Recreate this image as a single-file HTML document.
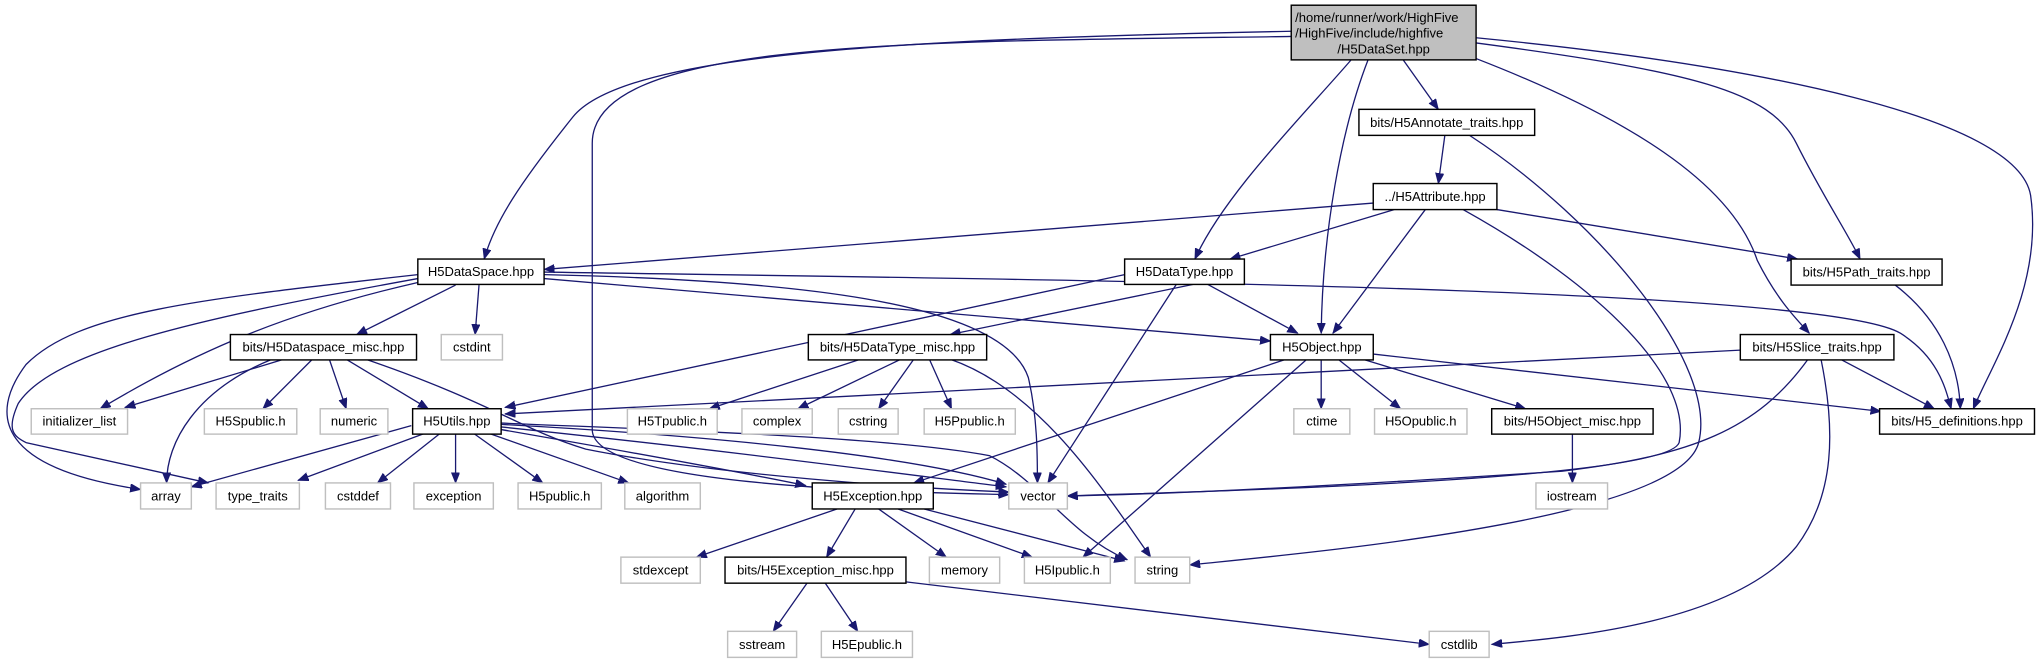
<!DOCTYPE html>
<html><head><meta charset="utf-8">
<style>
html,body{margin:0;padding:0;background:#fff;}
svg{display:block;}
text{font-family:"Liberation Sans",Arial,sans-serif;font-size:10px;fill:#000;}
.e{fill:none;stroke:#191970;stroke-width:1;}
.n{fill:#fff;stroke:#000;stroke-width:1.1;}
.g{fill:#fff;stroke:#bfbfbf;stroke-width:1.1;}
</style></head>
<body>
<svg width="2041" height="664" viewBox="0 0 1568 510.1" preserveAspectRatio="none" xmlns="http://www.w3.org/2000/svg">
<defs>
<marker id="a" markerUnits="userSpaceOnUse" markerWidth="9" markerHeight="7" refX="8" refY="3.2" orient="auto">
<path d="M0,0 L8,3.2 L0,6.4 z" fill="#191970" stroke="#191970" stroke-width="0.6"/>
</marker>
</defs>
<g class="e" marker-end="url(#a)">
<path d="M992,24 C700,30 480,40 440,90 C400,140 380,170 372,199"/>
<path d="M992,28 C700,32 455,30 455,110 L455,330 C455,375 700,378 775,380"/>
<path d="M1038,46 C1000,90 940,150 918,199"/>
<path d="M1051,46 C1030,100 1016,180 1015,256"/>
<path d="M1078,46 L1105,84"/>
<path d="M1134,45 C1250,90 1330,140 1350,200 C1365,230 1380,245 1390,256"/>
<path d="M1134,33 C1300,55 1360,70 1380,110 C1400,150 1420,180 1429,199"/>
<path d="M1134,29 C1350,50 1550,90 1560,150 C1570,220 1530,280 1516,314"/>
<path d="M1110,104 L1105,141"/>
<path d="M1129,104 C1230,170 1320,280 1305,340 C1290,400 1000,425 914,434"/>
<path d="M1055,156 L418,207"/>
<path d="M1071,161 L945,199"/>
<path d="M1095,161 L1024,256"/>
<path d="M1124,161 C1230,220 1300,290 1290,340 C1280,370 900,378 820,381"/>
<path d="M1150,161 L1381,199"/>
<path d="M350,219 L274,257"/>
<path d="M368,219 L365,257"/>
<path d="M321,217 C220,240 150,270 77,314"/>
<path d="M321,211 C150,230 60,240 20,280 C-10,320 0,360 108,376"/>
<path d="M321,214 C150,245 40,270 14,310 C5,330 10,335 20,340 L160,371"/>
<path d="M418,211 C600,215 770,230 790,290 C797,320 797,350 797,371"/>
<path d="M418,214 L976,262"/>
<path d="M418,209 C800,215 1400,220 1460,256 C1490,275 1495,300 1499,314"/>
<path d="M919,218 L730,257"/>
<path d="M927,218 L997,256"/>
<path d="M864,211 L388,313"/>
<path d="M904,218 L805,371"/>
<path d="M218,276 L96,313"/>
<path d="M240,276 L202,314"/>
<path d="M253,276 L266,314"/>
<path d="M266,276 L329,314"/>
<path d="M281,276 C380,310 400,330 450,345 C550,365 700,375 775,378"/>
<path d="M209,276 C150,300 128,340 128,371"/>
<path d="M661,276 L545,314"/>
<path d="M692,276 L613,314"/>
<path d="M702,276 L675,314"/>
<path d="M714,276 L731,314"/>
<path d="M730,276 C800,300 850,380 884,428"/>
<path d="M988,276 L702,371"/>
<path d="M1004,276 L832,428"/>
<path d="M1015,276 L1015,314"/>
<path d="M1028,276 L1076,314"/>
<path d="M1047,276 L1172,314"/>
<path d="M1055,272 L1445,316"/>
<path d="M1337,269 L388,318"/>
<path d="M1389,276 C1350,330 1300,350 1200,362 C1000,375 880,380 820,381"/>
<path d="M1399,276 C1410,330 1410,380 1380,420 C1330,480 1200,490 1146,495"/>
<path d="M1414,276 L1486,314"/>
<path d="M1456,219 C1490,245 1505,280 1506,314"/>
<path d="M1208,333 L1208,371"/>
<path d="M316,327 L147,374"/>
<path d="M326,333 L229,369"/>
<path d="M338,333 L290,371"/>
<path d="M350,333 L350,371"/>
<path d="M364,333 L417,371"/>
<path d="M376,333 L483,371"/>
<path d="M385,330 C500,350 580,365 619,373"/>
<path d="M385,328 C550,345 700,365 773,374"/>
<path d="M385,326 C550,335 700,350 773,372"/>
<path d="M385,325 C500,330 680,335 760,350 C800,370 820,410 866,430"/>
<path d="M643,391 L535,428"/>
<path d="M657,391 L635,428"/>
<path d="M675,391 L727,428"/>
<path d="M690,391 L793,428"/>
<path d="M710,391 L864,431"/>
<path d="M620,448 L594,485"/>
<path d="M634,448 L659,485"/>
<path d="M696,447 L1098,495"/>
</g>

<!-- root -->
<rect x="992" y="4" width="142" height="42" fill="#bfbfbf" stroke="#000" stroke-width="1.1"/>
<text x="995" y="17">/home/runner/work/HighFive</text>
<text x="995" y="29">/HighFive/include/highfive</text>
<text x="1063" y="41" text-anchor="middle">/H5DataSet.hpp</text>

<g text-anchor="middle">
<rect class="n" x="1044" y="84" width="135" height="20"/><text x="1111.5" y="97.5">bits/H5Annotate_traits.hpp</text>
<rect class="n" x="1055" y="141" width="95" height="20"/><text x="1102.5" y="154.5">../H5Attribute.hpp</text>

<rect class="n" x="321" y="199" width="97" height="19.5"/><text x="369.5" y="212">H5DataSpace.hpp</text>
<rect class="n" x="864" y="199" width="92" height="19.5"/><text x="910" y="212">H5DataType.hpp</text>
<rect class="n" x="1376" y="199" width="116" height="20"/><text x="1434" y="212.5">bits/H5Path_traits.hpp</text>

<rect class="n" x="177" y="257" width="143" height="19.5"/><text x="248.5" y="270">bits/H5Dataspace_misc.hpp</text>
<rect class="g" x="339" y="257" width="47" height="19.5"/><text x="362.5" y="270">cstdint</text>
<rect class="n" x="621" y="257" width="137" height="19.5"/><text x="689.5" y="270">bits/H5DataType_misc.hpp</text>
<rect class="n" x="976" y="257" width="79" height="19.5"/><text x="1015.5" y="270">H5Object.hpp</text>
<rect class="n" x="1337" y="257" width="118" height="19.5"/><text x="1396" y="270">bits/H5Slice_traits.hpp</text>

<rect class="g" x="24" y="314" width="74" height="19.5"/><text x="61" y="327">initializer_list</text>
<rect class="g" x="157" y="314" width="71" height="19.5"/><text x="192.5" y="327">H5Spublic.h</text>
<rect class="g" x="246" y="314" width="52" height="19.5"/><text x="272" y="327">numeric</text>
<rect class="n" x="317" y="314" width="68" height="19.5"/><text x="351" y="327">H5Utils.hpp</text>
<rect class="g" x="482" y="314" width="69" height="19.5"/><text x="516.5" y="327">H5Tpublic.h</text>
<rect class="g" x="570" y="314" width="54" height="19.5"/><text x="597" y="327">complex</text>
<rect class="g" x="644" y="314" width="46" height="19.5"/><text x="667" y="327">cstring</text>
<rect class="g" x="710" y="314" width="70" height="19.5"/><text x="745" y="327">H5Ppublic.h</text>
<rect class="g" x="994" y="314" width="43" height="19.5"/><text x="1015.5" y="327">ctime</text>
<rect class="g" x="1056" y="314" width="71" height="19.5"/><text x="1091.5" y="327">H5Opublic.h</text>
<rect class="n" x="1146" y="314" width="124" height="19.5"/><text x="1208" y="327">bits/H5Object_misc.hpp</text>
<rect class="n" x="1444" y="314" width="119" height="19.5"/><text x="1503.5" y="327">bits/H5_definitions.hpp</text>

<rect class="g" x="108" y="371" width="39" height="20"/><text x="127.5" y="384.5">array</text>
<rect class="g" x="166" y="371" width="64" height="20"/><text x="198" y="384.5">type_traits</text>
<rect class="g" x="250" y="371" width="50" height="20"/><text x="275" y="384.5">cstddef</text>
<rect class="g" x="318" y="371" width="61" height="20"/><text x="348.5" y="384.5">exception</text>
<rect class="g" x="398" y="371" width="64" height="20"/><text x="430" y="384.5">H5public.h</text>
<rect class="g" x="480" y="371" width="58" height="20"/><text x="509" y="384.5">algorithm</text>
<rect class="n" x="624" y="371" width="93" height="20"/><text x="670.5" y="384.5">H5Exception.hpp</text>
<rect class="g" x="775" y="371" width="45" height="20"/><text x="797.5" y="384.5">vector</text>
<rect class="g" x="1180" y="371" width="55" height="20"/><text x="1207.5" y="384.5">iostream</text>

<rect class="g" x="477" y="428" width="61" height="20"/><text x="507.5" y="441.5">stdexcept</text>
<rect class="n" x="557" y="428" width="139" height="20"/><text x="626.5" y="441.5">bits/H5Exception_misc.hpp</text>
<rect class="g" x="714" y="428" width="54" height="20"/><text x="741" y="441.5">memory</text>
<rect class="g" x="787" y="428" width="66" height="20"/><text x="820" y="441.5">H5Ipublic.h</text>
<rect class="g" x="872" y="428" width="42" height="20"/><text x="893" y="441.5">string</text>

<rect class="g" x="559" y="485" width="53" height="20"/><text x="585.5" y="498.5">sstream</text>
<rect class="g" x="631" y="485" width="70" height="20"/><text x="666" y="498.5">H5Epublic.h</text>
<rect class="g" x="1098" y="485" width="46" height="20"/><text x="1121" y="498.5">cstdlib</text>
</g>
</svg>
</body></html>
